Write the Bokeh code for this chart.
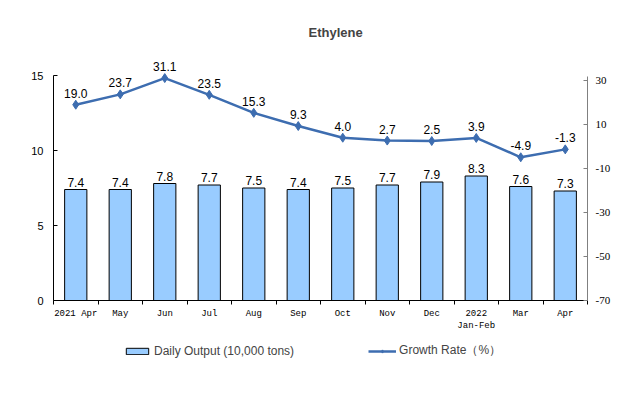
from bokeh.plotting import figure
from bokeh.layouts import column
from bokeh.models import (Range1d, LinearAxis, FixedTicker, Legend, LegendItem,
                          ColumnDataSource, Title)
from bokeh.core.properties import value
from bokeh.embed import file_html
from bokeh.resources import INLINE

months = ["2021 Apr", "May", "Jun", "Jul", "Aug", "Sep", "Oct", "Nov", "Dec",
          "2022\nJan-Feb", "Mar", "Apr"]
daily_output = [7.4, 7.4, 7.8, 7.7, 7.5, 7.4, 7.5, 7.7, 7.9, 8.3, 7.6, 7.3]
growth_rate = [19.0, 23.7, 31.1, 23.5, 15.3, 9.3, 4.0, 2.7, 2.5, 3.9, -4.9, -1.3]
left_ticks = [0, 5, 10, 15]
right_ticks = [-70, -50, -30, -10, 10, 30]

BAR_FILL = "#99CCFF"
LINE_COLOR = "#3D6DB0"

xs = list(range(len(months)))
src = ColumnDataSource(dict(
    x=xs, out=daily_output, gr=growth_rate,
    out_lbl=[f"{v:.1f}" for v in daily_output],
    gr_lbl=[f"{v:.1f}" for v in growth_rate],
))

p = figure(width=627, height=337, frame_width=534, frame_height=250,
           output_backend="svg", toolbar_location=None,
           x_range=Range1d(-0.5, len(months) - 0.5), y_range=Range1d(0, 16.667),
           min_border_left=53, min_border_right=40, min_border_top=50,
           min_border_bottom=0)
p.extra_y_ranges = {"g": Range1d(-70, 43.64)}
p.outline_line_color = None
p.xgrid.visible = False
p.ygrid.visible = False

p.title = Title(text="Ethylene", align="left", text_font="Liberation Sans",
                text_font_size="13px", text_font_style="bold", offset=255,
                standoff=21)

p.vbar(x="x", top="out", width=0.5, source=src, fill_color=BAR_FILL,
       line_color="black", line_width=1)
p.line(x="x", y="gr", source=src, y_range_name="g", line_color=LINE_COLOR,
       line_width=2.5)
p.scatter(x="x", y="gr", source=src, y_range_name="g", marker="diamond",
          size=9, fill_color=LINE_COLOR, line_color=LINE_COLOR)

p.text(x="x", y="out", text="out_lbl", source=src, text_align="center",
       text_baseline="bottom", y_offset=-3, text_font=value("Liberation Sans"),
       text_font_size="12px", text_color="black")
p.text(x="x", y="gr", text="gr_lbl", source=src, y_range_name="g",
       text_align="center", text_baseline="bottom", y_offset=-7,
       text_font=value("Liberation Sans"), text_font_size="12px", text_color="black")

# x axis
xa = p.xaxis[0]
xa.ticker = FixedTicker(ticks=xs, minor_ticks=[i - 0.5 for i in range(len(months) + 1)])
xa.major_label_overrides = {i: m for i, m in enumerate(months)}
xa.major_tick_out = 0
xa.major_tick_in = 0
xa.minor_tick_out = 4
xa.minor_tick_in = 0
xa.minor_tick_line_color = "black"
xa.axis_line_color = "black"
xa.major_label_text_font = "Liberation Mono"
xa.major_label_text_font_size = "9px"
xa.major_label_text_color = "black"
xa.major_label_standoff = 4

# left axis
ya = p.yaxis[0]
ya.ticker = FixedTicker(ticks=left_ticks)
ya.bounds = (left_ticks[0], left_ticks[-1])
ya.minor_tick_line_color = None
ya.major_tick_in = 4
ya.major_tick_out = 0
ya.axis_line_color = "black"
ya.major_tick_line_color = "black"
ya.major_label_text_font = "Liberation Sans"
ya.major_label_text_font_size = "11px"
ya.major_label_text_color = "black"
ya.major_label_standoff = 10

ra = LinearAxis(y_range_name="g", ticker=FixedTicker(ticks=right_ticks))
ra.bounds = (right_ticks[0], 31.8)
ra.major_label_overrides = {t: str(t) for t in right_ticks}
ra.minor_tick_line_color = None
ra.major_tick_in = 4
ra.major_tick_out = 0
ra.axis_line_color = "#808080"
ra.major_tick_line_color = "#808080"
ra.major_label_text_font = "Liberation Serif"
ra.major_label_text_font_size = "11px"
ra.major_label_text_color = "black"
ra.major_label_standoff = 8
p.add_layout(ra, "right")

# legend strip (separate small figure; its glyphs lie outside its ranges)
lg = figure(width=627, height=40, output_backend="svg", toolbar_location=None,
            x_range=Range1d(100, 101), y_range=Range1d(100, 101),
            min_border=0)
lg.axis.visible = False
lg.grid.visible = False
lg.outline_line_color = None
lbars = lg.vbar(x="x", top="out", width=0.5, source=src, fill_color=BAR_FILL,
                line_color="black", line_width=1)
lline = lg.line(x="x", y="gr", source=src, line_color=LINE_COLOR, line_width=2.5)
lpts = lg.scatter(x="x", y="gr", source=src, marker="diamond", size=6,
                  fill_color=LINE_COLOR, line_color=LINE_COLOR)

legend = Legend(items=[LegendItem(label="Daily Output (10,000 tons)", renderers=[lbars]),
                       LegendItem(label="Growth Rate（%）", renderers=[lline, lpts])],
                orientation="horizontal", location=(70, 14), padding=0, margin=0,
                spacing=74, glyph_width=28, glyph_height=8, label_height=12,
                label_standoff=3, border_line_color=None, background_fill_alpha=0,
                label_text_font="Liberation Sans", label_text_font_size="12px")
lg.add_layout(legend, "center")

open("out.html", "w").write(file_html(column(p, lg, spacing=0), INLINE))
